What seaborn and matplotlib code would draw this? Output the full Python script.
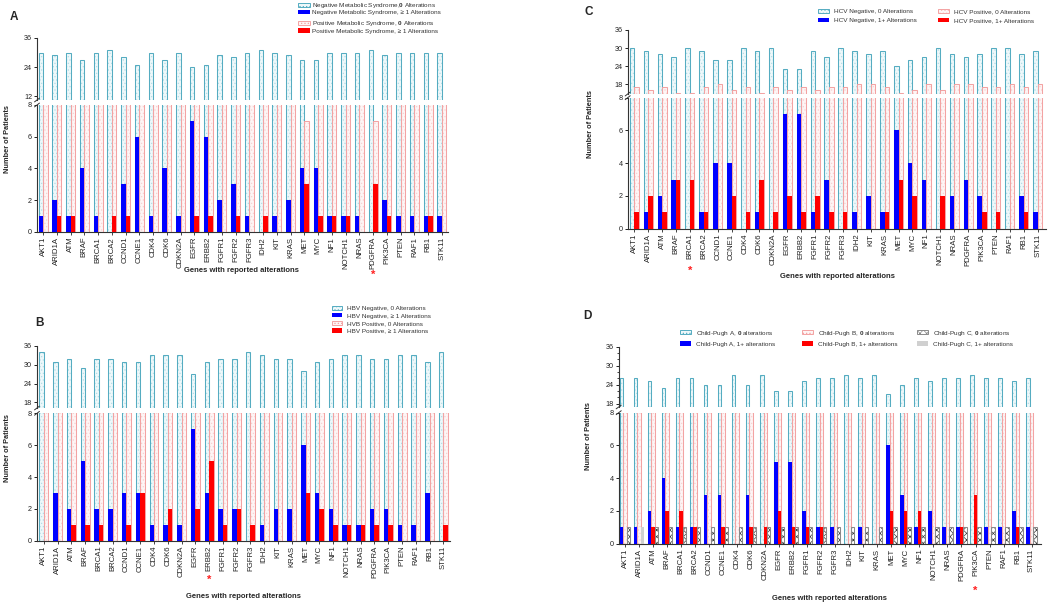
import numpy as np
import pandas as pd
import matplotlib
matplotlib.use("Agg")
import matplotlib.pyplot as plt
import seaborn as sns
from matplotlib.patches import Patch, Rectangle
from matplotlib.ticker import AutoMinorLocator

sns.set_style("ticks")
plt.rcParams["font.family"] = ["Liberation Sans", "DejaVu Sans"]
plt.rcParams["mathtext.fontset"] = "custom"
plt.rcParams["mathtext.rm"] = "Liberation Sans"
plt.rcParams["mathtext.bf"] = "Liberation Sans:bold"
plt.rcParams["hatch.linewidth"] = 0.5

# ---------------- data ----------------
genes = ["AKT1", "ARID1A", "ATM", "BRAF", "BRCA1", "BRCA2", "CCND1", "CCNE1", "CDK4", "CDK6",
         "CDKN2A", "EGFR", "ERBB2", "FGFR1", "FGFR2", "FGFR3", "IDH2", "KIT", "KRAS", "MET",
         "MYC", "NF1", "NOTCH1", "NRAS", "PDGFRA", "PIK3CA", "PTEN", "RAF1", "RB1", "STK11"]

# Panel A: metabolic syndrome
a_neg_zero = [30, 29, 30, 27, 30, 31, 28, 25, 30, 27, 30, 24, 25, 29, 28, 30, 31, 30, 29, 27, 27, 30, 30, 30, 31, 29, 30, 30, 30, 30]
a_neg_alt = [1, 2, 1, 4, 1, 0, 3, 6, 1, 4, 1, 7, 6, 2, 3, 1, 0, 1, 2, 4, 4, 1, 1, 1, 0, 2, 1, 1, 1, 1]
a_pos_zero = [10, 9, 9, 10, 10, 9, 9, 10, 10, 10, 10, 9, 9, 10, 9, 10, 9, 10, 10, 7, 9, 9, 9, 10, 7, 9, 10, 10, 9, 10]
a_pos_alt = [0, 1, 1, 0, 0, 1, 1, 0, 0, 0, 0, 1, 1, 0, 1, 0, 1, 0, 0, 3, 1, 1, 1, 0, 3, 1, 0, 0, 1, 0]

# Panel B: HBV
b_neg_zero = [34, 31, 32, 29, 32, 32, 31, 31, 33, 33, 33, 27, 31, 32, 32, 34, 33, 32, 32, 28, 31, 32, 33, 33, 32, 32, 33, 33, 31, 34]
b_neg_alt = [0, 3, 2, 5, 2, 2, 3, 3, 1, 1, 1, 7, 3, 2, 2, 0, 1, 2, 2, 6, 3, 2, 1, 1, 2, 2, 1, 1, 3, 0]
b_pos_zero = [14, 14, 13, 13, 13, 14, 13, 11, 14, 12, 14, 12, 9, 13, 12, 13, 14, 14, 14, 11, 12, 13, 13, 13, 13, 13, 14, 14, 14, 13]
b_pos_alt = [0, 0, 1, 1, 1, 0, 1, 3, 0, 2, 0, 2, 5, 1, 2, 1, 0, 0, 0, 3, 2, 1, 1, 1, 1, 1, 0, 0, 0, 1]

# Panel C: HCV
c_neg_zero = [30, 29, 28, 27, 30, 29, 26, 26, 30, 29, 30, 23, 23, 29, 27, 30, 29, 28, 29, 24, 26, 27, 30, 28, 27, 28, 30, 30, 28, 29]
c_neg_alt = [0, 1, 2, 3, 0, 1, 4, 4, 0, 1, 0, 7, 7, 1, 3, 0, 1, 2, 1, 6, 4, 3, 0, 2, 3, 2, 0, 0, 2, 1]
c_pos_zero = [17, 16, 17, 15, 15, 17, 18, 16, 17, 15, 17, 16, 17, 16, 17, 17, 18, 18, 17, 15, 16, 18, 16, 18, 18, 17, 17, 18, 17, 18]
c_pos_alt = [1, 2, 1, 3, 3, 1, 0, 2, 1, 3, 1, 2, 1, 2, 1, 1, 0, 0, 1, 3, 2, 0, 2, 0, 0, 1, 1, 0, 1, 0]

# Panel D: Child-Pugh
d_a_zero = [26, 26, 25, 23, 26, 26, 24, 24, 27, 24, 27, 22, 22, 25, 26, 26, 27, 26, 27, 21, 24, 26, 25, 26, 26, 27, 26, 26, 25, 26]
d_a_alt = [1, 1, 2, 4, 1, 1, 3, 3, 0, 3, 0, 5, 5, 2, 1, 1, 0, 1, 0, 6, 3, 1, 2, 1, 1, 0, 1, 1, 2, 1]
d_b_zero = [12, 12, 11, 10, 10, 11, 12, 11, 12, 11, 11, 10, 11, 11, 11, 12, 12, 12, 12, 10, 10, 10, 12, 12, 11, 9, 12, 12, 11, 12]
d_b_alt = [0, 0, 1, 2, 2, 1, 0, 1, 0, 1, 1, 2, 1, 1, 1, 0, 0, 0, 0, 2, 2, 2, 0, 0, 1, 3, 0, 0, 1, 0]
d_c_zero = [1, 0, 1, 1, 1, 1, 1, 1, 1, 1, 1, 1, 1, 1, 1, 1, 1, 1, 1, 1, 1, 1, 1, 1, 1, 1, 1, 1, 1, 1]
d_c_alt = [0, 1, 0, 0, 0, 0, 0, 0, 0, 0, 0, 0, 0, 0, 0, 0, 0, 0, 0, 0, 0, 0, 0, 0, 0, 0, 0, 0, 0, 0]

# ---------------- styles ----------------
CYAN = dict(face="#eef8fa", hatch_color="#b3dde7", edge="#55acc1", hatch=".....")
PINK = dict(face="#fef5f5", hatch_color="#fad0d0", edge="#f3a3a3", hatch=".....")
CHECK = dict(face="#ffffff", hatch_color="#3a3a3a", edge="#8a8a8a", hatch="xxxxx")
BLUE = dict(face="#0000ff")
RED = dict(face="#ff0000")
GRAY = dict(face="#d0d0d0")

W, H = 1050, 604
fig = plt.figure(figsize=(W / 100, H / 100), dpi=100)


def px_rect(x0, x1, yt, yb):
    return [x0 / W, 1 - yb / H, (x1 - x0) / W, (yb - yt) / H]


def make_df(groups):
    return pd.DataFrame({
        "gene": genes * len(groups),
        "group": sum([[name] * len(genes) for name, _, _ in groups], []),
        "value": np.concatenate([np.asarray(v, float) for _, v, _ in groups]),
    })


def draw(ax, groups, width, zorder):
    names = [g[0] for g in groups]
    df = make_df(groups)
    n_before = len(ax.containers)
    sns.barplot(data=df, x="gene", y="value", hue="group", order=genes, hue_order=names,
                palette={g[0]: g[2]["face"] for g in groups}, width=width, errorbar=None,
                saturation=1, legend=False, dodge=True, gap=0, ax=ax)
    for cont, (name, vals, st) in zip(ax.containers[n_before:], groups):
        for p in cont:
            p.set_zorder(zorder)
            if "hatch" in st:
                p.set_facecolor(st["face"])
                p.set_edgecolor(st["hatch_color"])
                p.set_hatch(st["hatch"])
                p.set_linewidth(0)
                ax.add_patch(Rectangle((p.get_x(), p.get_y()), p.get_width(), p.get_height(),
                                       fill=False, edgecolor=st["edge"], lw=0.75, zorder=zorder + 0.1))
            else:
                p.set_facecolor(st["face"])
                p.set_edgecolor("none")
                p.set_linewidth(0)


def style_axis(ax):
    ax.set_xlabel("")
    ax.set_ylabel("")
    for s in ("top", "right"):
        ax.spines[s].set_visible(False)
    for s in ("left", "bottom"):
        ax.spines[s].set_linewidth(0.8)
        ax.spines[s].set_color("#333333")
    ax.tick_params(axis="y", length=2.5, width=0.7, labelsize=5.2, pad=1, colors="#222222")
    ax.set_facecolor("none")


def break_marks(ax_t, ax_b):
    kw = dict(color="#333333", lw=0.7, clip_on=False)
    ax_t.plot([-0.006, 0.006], [-0.03, 0.03], transform=ax_t.transAxes, **kw)
    ax_b.plot([-0.006, 0.006], [0.985, 1.015], transform=ax_b.transAxes, **kw)


def panel(x0, x1, top_y, bot_y, top_ylim, top_ticks, xlim, zero_groups, alt_groups, width,
          minor_top=False):
    ax_t = fig.add_axes(px_rect(x0, x1, *top_y))
    ax_b = fig.add_axes(px_rect(x0, x1, *bot_y))
    draw(ax_t, zero_groups, width, 1)
    draw(ax_b, zero_groups, width, 1)
    draw(ax_b, alt_groups, width, 3)
    for ax in (ax_t, ax_b):
        style_axis(ax)
        ax.set_xlim(*xlim)
    ax_t.set_ylim(*top_ylim)
    ax_t.set_yticks(top_ticks)
    ax_t.spines["bottom"].set_visible(False)
    ax_t.set_xticks([])
    if minor_top:
        ax_t.yaxis.set_minor_locator(AutoMinorLocator(3))
        ax_t.tick_params(axis="y", which="minor", length=1.5, width=0.6)
    ax_b.set_ylim(0, 8)
    ax_b.set_yticks([0, 2, 4, 6, 8])
    ax_b.set_xticks(range(len(genes)))
    ax_b.set_xticklabels(genes, rotation=90, fontsize=5.6, color="#222222")
    ax_b.tick_params(axis="x", length=2, width=0.6, pad=1.5)
    break_marks(ax_t, ax_b)
    return ax_t, ax_b


def star(ax, gene, dy_pt):
    ax.annotate("*", xy=(genes.index(gene), 0), xycoords=("data", "axes fraction"),
                xytext=(0, -dy_pt), textcoords="offset points", ha="center", va="center",
                color="#ff2020", fontsize=8, fontweight="bold")


def ftext(x, y, s, **kw):
    fig.text(x / W, 1 - y / H, s, **kw)


def legend(handles, labels, x, y, labelspacing, handlelength=1.7, handletextpad=0.8):
    leg = fig.legend(handles, labels, loc="upper left", bbox_to_anchor=(x / W, 1 - y / H),
                     frameon=False, fontsize=4.6, borderpad=0, borderaxespad=0,
                     labelspacing=labelspacing, handlelength=handlelength, handleheight=0.65,
                     handletextpad=handletextpad)
    for t in leg.get_texts():
        t.set_color("#333333")
    return leg


def hpatch(st):
    if "hatch" in st:
        return Patch(facecolor=st["face"], edgecolor=st["edge"], hatch=st["hatch"], lw=0.7)
    return Patch(facecolor=st["face"], edgecolor="none")


# ---------------- Panel A ----------------
A_t, A_b = panel(37, 448, (38, 100), (105, 232), (10.35, 36), [12, 24, 36], (-0.44, 29.44),
                 [("neg0", a_neg_zero, CYAN), ("pos0", a_pos_zero, PINK)],
                 [("neg1", a_neg_alt, BLUE), ("pos1", a_pos_alt, RED)], 0.65)
star(A_b, "PDGFRA", 30.5)
ftext(13.8, 17.5, "A", fontsize=8.5, fontweight="bold", ha="center", va="center")
ftext(8, 139, "Number of Patients", rotation=90, fontsize=5.3, fontweight="bold", ha="center", va="center")
ftext(242, 270.7, "Genes with reported alterations", fontsize=5.5, fontweight="bold", ha="center", va="center")
legend([hpatch(CYAN), hpatch(BLUE)],
       ["Negative Metabolic Syndrome,$\\mathbf{0}$ Alterations", "Negative Metabolic Syndrome, \u2265 1 Alterations"],
       298, 1.0, 0.0, 1.8, 0.45)
legend([hpatch(PINK), hpatch(RED)],
       ["Positive Metabolic Syndrome, $\\mathbf{0}$ Alterations", "Positive Metabolic Syndrome, \u2265 1 Alterations"],
       298, 19.3, 0.0, 1.8, 0.45)

# ---------------- Panel B ----------------
B_t, B_b = panel(37, 450, (346, 408), (413.3, 540.7), (16.2, 36), [18, 24, 30, 36], (-0.49, 29.48),
                 [("neg0", b_neg_zero, CYAN), ("pos0", b_pos_zero, PINK)],
                 [("neg1", b_neg_alt, BLUE), ("pos1", b_pos_alt, RED)], 0.65)
star(B_b, "ERBB2", 28.0)
ftext(39, 322.5, "B", fontsize=8.5, fontweight="bold", ha="center", va="center")
ftext(8, 448, "Number of Patients", rotation=90, fontsize=5.3, fontweight="bold", ha="center", va="center")
ftext(244, 596, "Genes with reported alterations", fontsize=5.5, fontweight="bold", ha="center", va="center")
legend([hpatch(CYAN), hpatch(BLUE), hpatch(PINK), hpatch(RED)],
       ["HBV Negative, 0 Alterations", "HBV Negative, \u2265 1 Alterations",
        "HVB Positive, 0 Alterations", "HBV Positive, \u2265 1 Alterations"],
       332, 305.6, 0.34, 1.6, 0.8)

# ---------------- Panel C ----------------
C_t, C_b = panel(627.7, 1046, (30, 94), (97.7, 228.7), (14.8, 36), [18, 24, 30, 36], (-0.47, 29.6),
                 [("neg0", c_neg_zero, CYAN), ("pos0", c_pos_zero, PINK)],
                 [("neg1", c_neg_alt, BLUE), ("pos1", c_pos_alt, RED)], 0.65)
star(C_b, "BRCA1", 30.2)
ftext(588.5, 11.7, "C", fontsize=8.5, fontweight="bold", ha="center", va="center")
ftext(590.7, 124.5, "Number of Patients", rotation=90, fontsize=5.3, fontweight="bold", ha="center", va="center")
ftext(837, 276.7, "Genes with reported alterations", fontsize=5.5, fontweight="bold", ha="center", va="center")
legend([hpatch(CYAN), hpatch(BLUE)], ["HCV Negative, 0 Alterations", "HCV Negative, 1+ Alterations"],
       817.7, 9.0, 0.52)
legend([hpatch(PINK), hpatch(RED)], ["HCV Positive, 0 Alterations", "HCV Positive, 1+ Alterations"],
       937.7, 9.0, 0.52)

# ---------------- Panel D ----------------
D_t, D_b = panel(618.7, 1040.7, (346.7, 407), (412.7, 543.7), (16.9, 36), [18, 24, 30, 36], (-0.45, 29.65),
                 [("a0", d_a_zero, CYAN), ("b0", d_b_zero, PINK), ("c0", d_c_zero, CHECK)],
                 [("a1", d_a_alt, BLUE), ("b1", d_b_alt, RED), ("c1", d_c_alt, GRAY)], 0.73,
                 minor_top=True)
star(D_b, "PIK3CA", 33.8)
ftext(587.5, 316, "D", fontsize=8.5, fontweight="bold", ha="center", va="center")
ftext(588, 436, "Number of Patients", rotation=90, fontsize=5.3, fontweight="bold", ha="center", va="center")
ftext(829, 599, "Genes with reported alterations", fontsize=5.5, fontweight="bold", ha="center", va="center")
legend([hpatch(CYAN), hpatch(BLUE)],
       ["Child-Pugh A, $\\mathbf{0}$ alterations", "Child-Pugh A, 1+ alterations"], 680, 328.6, 0.57)
legend([hpatch(PINK), hpatch(RED)],
       ["Child-Pugh B, $\\mathbf{0}$ alterations", "Child-Pugh B, 1+ alterations"], 802, 328.6, 0.57)
legend([hpatch(CHECK), hpatch(GRAY)],
       ["Child-Pugh C, $\\mathbf{0}$ alterations", "Child-Pugh C, 1+ alterations"], 917, 328.6, 0.57)

fig.savefig("out.png", dpi=100, facecolor="white")
